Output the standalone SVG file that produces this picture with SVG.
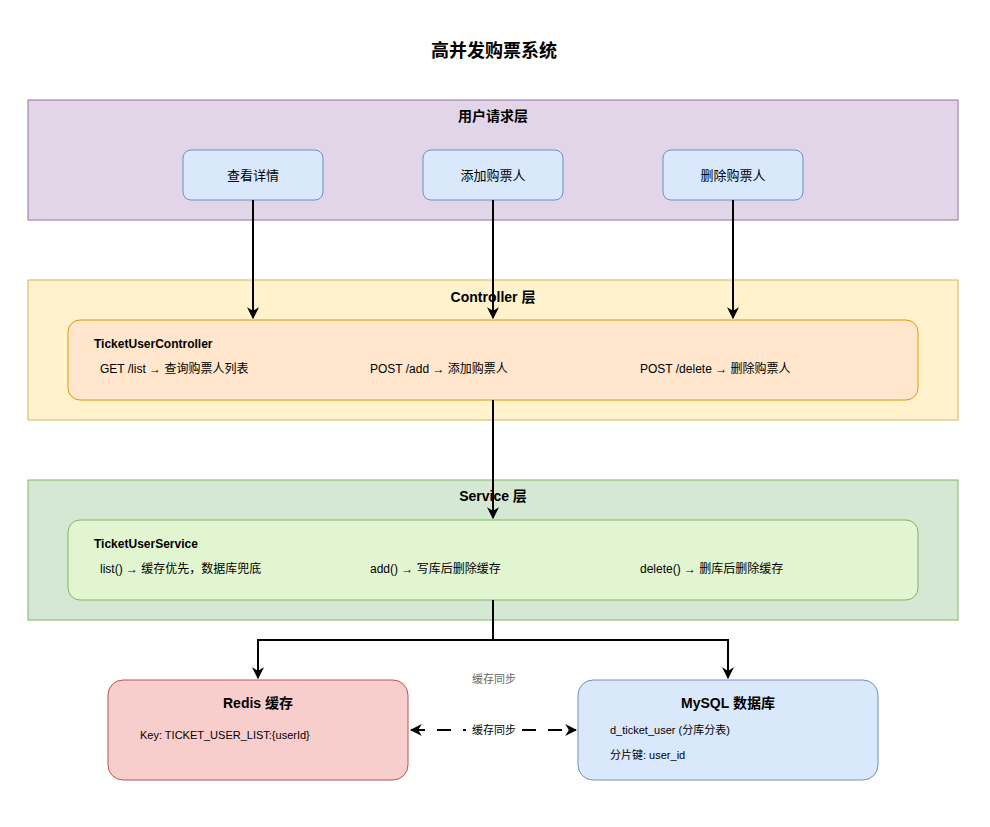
<svg xmlns="http://www.w3.org/2000/svg" width="990" height="827" viewBox="0 0 990 827">
<defs>
<style>
text{font-family:"Liberation Sans","Noto Sans CJK SC",sans-serif;fill:#000}
.t{font-size:12px}
.b{font-size:14px;font-weight:bold}
.c{text-anchor:middle}
.e{stroke:#000;stroke-width:2;fill:none}
</style>
<marker id="a" viewBox="0 0 10 10" refX="9" refY="5" markerWidth="6" markerHeight="6" orient="auto-start-reverse"><path d="M0,0 L10,5 L0,10 L3,5 Z" fill="#000"/></marker>
</defs>
<rect width="990" height="827" fill="#fff"/>
<text x="494" y="57" class="c" style="font-size:18px;font-weight:bold">高并发购票系统</text>
<g id="layer-user"><rect x="28" y="100" width="930" height="120" fill="#e1d5e7" stroke="#9673a6"/><text x="493" y="121" class="b c">用户请求层</text></g>
<g id="n-view"><rect x="183" y="150" width="140" height="50" rx="8" fill="#dae8fc" stroke="#6c8ebf"/><text x="253" y="180" class="c" font-size="13">查看详情</text></g>
<g id="n-add"><rect x="423" y="150" width="140" height="50" rx="8" fill="#dae8fc" stroke="#6c8ebf"/><text x="493" y="180" class="c" font-size="13">添加购票人</text></g>
<g id="n-del"><rect x="663" y="150" width="140" height="50" rx="8" fill="#dae8fc" stroke="#6c8ebf"/><text x="733" y="180" class="c" font-size="13">删除购票人</text></g>
<g id="layer-ctrl"><rect x="28" y="280" width="930" height="140" fill="#fff2cc" stroke="#d6b656"/><text x="493" y="302" class="b c">Controller 层</text></g>
<g id="n-ctrl"><rect x="68" y="320" width="850" height="80" rx="12" fill="#ffe6cc" stroke="#d79b00"/>
<text x="94" y="348" class="t" font-weight="bold" font-size="13">TicketUserController</text>
<text x="100" y="373" class="t">GET /list → 查询购票人列表</text>
<text x="370" y="373" class="t">POST /add → 添加购票人</text>
<text x="640" y="373" class="t">POST /delete → 删除购票人</text></g>
<g id="layer-svc"><rect x="28" y="480" width="930" height="140" fill="#d5e8d4" stroke="#82b366"/><text x="493" y="501" class="b c">Service 层</text></g>
<g id="n-svc"><rect x="68" y="520" width="850" height="80" rx="12" fill="#e1f5d1" stroke="#82b366"/>
<text x="94" y="548" class="t" font-weight="bold" font-size="13">TicketUserService</text>
<text x="100" y="573" class="t">list() → 缓存优先，数据库兜底</text>
<text x="370" y="573" class="t">add() → 写库后删除缓存</text>
<text x="640" y="573" class="t">delete() → 删库后删除缓存</text></g>
<g id="n-redis"><rect x="108" y="680" width="300" height="100" rx="15" fill="#f8cecc" stroke="#b85450"/>
<text x="258" y="708" class="b c" font-size="13">Redis 缓存</text>
<text x="140" y="739" style="font-size:11px">Key: TICKET_USER_LIST:{userId}</text></g>
<g id="n-mysql"><rect x="578" y="680" width="300" height="100" rx="15" fill="#dae8fc" stroke="#6c8ebf"/>
<text x="728" y="708" class="b c" font-size="13">MySQL 数据库</text>
<text x="610" y="734" style="font-size:11px">d_ticket_user (分库分表)</text>
<text x="610" y="759" style="font-size:11px">分片键: user_id</text></g>
<g id="connectors">
<path class="e" d="M253,200 V318" marker-end="url(#a)"/>
<path class="e" d="M493,200 V318" marker-end="url(#a)"/>
<path class="e" d="M733,200 V318" marker-end="url(#a)"/>
<path class="e" d="M493,400 V518" marker-end="url(#a)"/>
<path class="e" d="M493,600 V640 H258 V678" marker-end="url(#a)"/>
<path class="e" d="M493,640 H728 V678" marker-end="url(#a)"/>
<path class="e" d="M411,730 H466" stroke-dasharray="14 12" marker-start="url(#a)"/>
<path class="e" d="M522,730 H576" stroke-dasharray="14 12" marker-end="url(#a)"/>
<text x="494" y="734" class="c" style="font-size:11px">缓存同步</text>
<text x="494" y="683" class="c" style="font-size:11px;fill:#666">缓存同步</text>
</g>
</svg>
